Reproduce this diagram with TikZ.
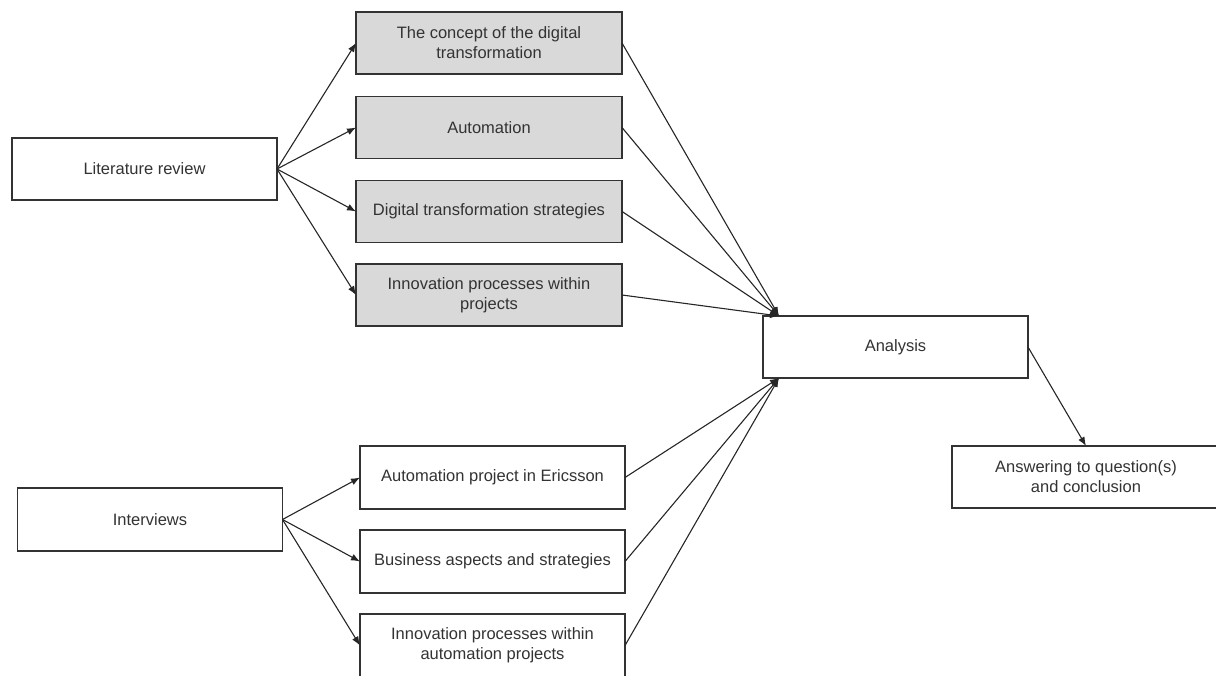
\documentclass[tikz,border=0pt]{standalone}
\usepackage{fontspec}
\setmainfont{Liberation Sans}
\usetikzlibrary{arrows.meta}
\definecolor{boxline}{HTML}{333333}
\definecolor{graybox}{HTML}{D9D9D9}
\definecolor{txt}{HTML}{333333}
\begin{document}
\begin{tikzpicture}[x=1pt,y=-1pt,
  base/.style={draw=boxline, line width=1.4pt, rectangle, inner sep=0pt, outer sep=0pt,
    minimum width=265pt, minimum height=62pt, align=center, text=txt,
    font=\fontsize{16.5}{20}\selectfont},
  whitebox/.style={base, fill=white},
  shadedbox/.style={base, fill=graybox},
  conn/.style={draw=black!85, line width=1.1pt, -{Latex[length=9pt,width=7pt]}}
]
\useasboundingbox (0,0) rectangle (1216,676);

% left sources
\node[whitebox] (lit) at (144.5,169) {Literature review};
\node[whitebox, minimum height=63pt] (int) at (150,519.5) {Interviews};

% literature topics
\node[shadedbox, minimum width=266pt] (g1) at (489,43) {The concept of the digital\\transformation};
\node[shadedbox, minimum width=266pt] (g2) at (489,127.5) {Automation};
\node[shadedbox, minimum width=266pt] (g3) at (489,211.5) {Digital transformation strategies};
\node[shadedbox, minimum width=266pt] (g4) at (489,295) {Innovation processes within\\projects};

% interview topics
\node[whitebox, minimum height=63pt] (b1) at (492.5,477.5) {Automation project in Ericsson};
\node[whitebox, minimum height=63pt] (b2) at (492.5,561.5) {Business aspects and strategies};
\node[whitebox, minimum height=63pt] (b3) at (492.5,645.5) {Innovation processes within\\automation projects};

% analysis and conclusion
\node[whitebox] (ana) at (895.5,347) {Analysis};
\node[whitebox, minimum width=268pt] (ans) at (1086,477) {Answering to question(s)\\and conclusion};

\coordinate (atop) at ([xshift=16pt]ana.north west);
\coordinate (abot) at ([xshift=16pt]ana.south west);

% connectors
\foreach \g in {g1,g2,g3,g4} {
  \draw[conn] (lit.east) -- (\g.west);
  \draw[conn] (\g.east) -- (atop);
}
\foreach \b in {b1,b2,b3} {
  \draw[conn] (int.east) -- (\b.west);
  \draw[conn] (\b.east) -- (abot);
}
\draw[conn] (ana.east) -- (ans.north);
\end{tikzpicture}
\end{document}
